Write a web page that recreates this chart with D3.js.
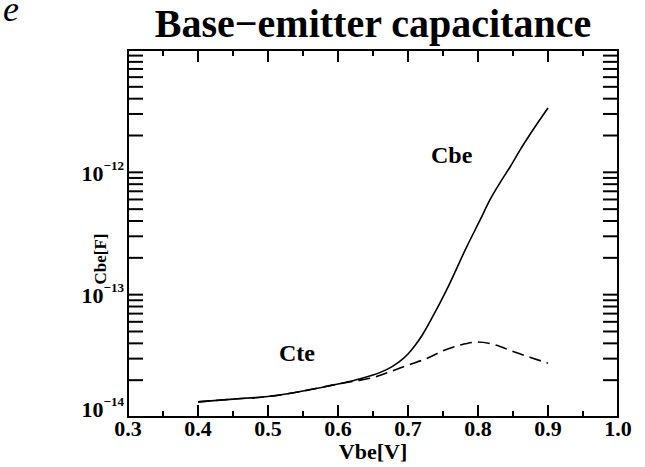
<!DOCTYPE html>
<html>
<head>
<meta charset="utf-8">
<script src="https://cdn.jsdelivr.net/npm/d3@7"></script>
<style>
  html, body { margin: 0; padding: 0; background: #fff; }
  svg { display: block; }
  text { font-family: "Liberation Serif", "Times New Roman", serif; fill: #000; }
</style>
</head>
<body>
<svg id="chart" width="645" height="467"></svg>
<script>
// Base-emitter voltage sweep [V]
const vbe = [0.40, 0.45, 0.50, 0.55, 0.60, 0.625, 0.65, 0.67, 0.68, 0.69, 0.70, 0.71, 0.72, 0.735, 0.755, 0.784, 0.803, 0.817, 0.834, 0.846, 0.86, 0.90];
// Total base-emitter capacitance Cbe [F]
const cbe = [1.33e-14, 1.40e-14, 1.47e-14, 1.63e-14, 1.86e-14, 2.01e-14, 2.20e-14, 2.45e-14, 2.64e-14, 2.90e-14, 3.27e-14, 3.84e-14, 4.64e-14, 6.57e-14, 1.09e-13, 2.47e-13, 4.08e-13, 5.95e-13, 8.67e-13, 1.11e-12, 1.52e-12, 3.36e-12];
// Depletion (junction) capacitance Cte [F]
const vbeCte = [0.40, 0.45, 0.50, 0.55, 0.60, 0.625, 0.65, 0.675, 0.70, 0.725, 0.75, 0.775, 0.80, 0.825, 0.85, 0.875, 0.90];
const cte = [1.33e-14, 1.40e-14, 1.47e-14, 1.63e-14, 1.86e-14, 1.97e-14, 2.10e-14, 2.35e-14, 2.66e-14, 2.98e-14, 3.47e-14, 3.88e-14, 4.10e-14, 3.88e-14, 3.43e-14, 3.07e-14, 2.75e-14];

const xTickValues = [0.3, 0.4, 0.5, 0.6, 0.7, 0.8, 0.9, 1.0];
const xTickLabels = ["0.3", "0.4", "0.5", "0.6", "0.7", "0.8", "0.9", "1.0"];
const yDecades = [1e-14, 1e-13, 1e-12];
const yExponents = ["\u221214", "\u221213", "\u221212"];

const title = "Base\u2212emitter capacitance";
const xTitle = "Vbe[V]";
const yTitle = "Cbe[F]";

const svg = d3.select("#chart");
const plotL = 128, plotR = 618, plotT = 50, plotB = 417;

const x = d3.scaleLinear().domain([0.3, 1.0]).range([plotL, plotR]);
const y = d3.scaleLog().domain([1e-14, 1e-11]).range([plotB, plotT]);

// stray glyph at the upper-left corner
svg.append("text").attr("x", 3).attr("y", 21)
  .attr("font-size", 36).attr("font-style", "italic").text("e");

// title
svg.append("text").attr("x", (plotL + plotR) / 2).attr("y", 37)
  .attr("text-anchor", "middle").attr("font-size", 40).attr("font-weight", "bold")
  .text(title);

// minor and major tick positions
const xMajor = d3.range(0, 8).map(i => +(0.3 + i * 0.1).toFixed(2));
const xMinor = d3.range(0, 7).map(i => +(0.35 + i * 0.1).toFixed(2));
const yTicks = [];
yDecades.forEach(d => { for (let k = 1; k <= 9; k++) yTicks.push(d * k); });
yTicks.push(1e-11);

const g = svg.append("g").attr("stroke", "#000").attr("stroke-width", 2);

// x ticks (bottom and top, inward)
xMajor.forEach(v => {
  g.append("line").attr("x1", x(v)).attr("x2", x(v)).attr("y1", plotB).attr("y2", plotB - 12);
  g.append("line").attr("x1", x(v)).attr("x2", x(v)).attr("y1", plotT).attr("y2", plotT + 12);
});
xMinor.forEach(v => {
  g.append("line").attr("x1", x(v)).attr("x2", x(v)).attr("y1", plotB).attr("y2", plotB - 6);
  g.append("line").attr("x1", x(v)).attr("x2", x(v)).attr("y1", plotT).attr("y2", plotT + 6);
});
// y ticks (left and right, inward)
yTicks.forEach(v => {
  g.append("line").attr("x1", plotL).attr("x2", plotL + 15).attr("y1", y(v)).attr("y2", y(v));
  g.append("line").attr("x1", plotR).attr("x2", plotR - 15).attr("y1", y(v)).attr("y2", y(v));
});

// frame
svg.append("rect").attr("x", plotL).attr("y", plotT)
  .attr("width", plotR - plotL).attr("height", plotB - plotT)
  .attr("fill", "none").attr("stroke", "#000").attr("stroke-width", 2);

// x tick labels
svg.append("g").selectAll("text").data(xTickValues).join("text")
  .attr("x", d => x(d)).attr("y", 436)
  .attr("text-anchor", "middle").attr("font-size", 22).attr("font-weight", "bold")
  .text((d, i) => xTickLabels[i]);

// y tick labels: 10 with superscript exponent
yDecades.forEach((d, i) => {
  const base = Math.min(y(d) + 8.5, plotB);
  const t = svg.append("text").attr("x", 124).attr("y", base)
    .attr("text-anchor", "end").attr("font-size", 22).attr("font-weight", "bold");
  t.append("tspan").text("10");
  t.append("tspan").attr("dy", -11).attr("font-size", 13).text(yExponents[i]);
});

// axis titles
svg.append("text").attr("x", x(0.65)).attr("y", 459)
  .attr("text-anchor", "middle").attr("font-size", 22).attr("font-weight", "bold")
  .text(xTitle);
svg.append("text").attr("transform", "translate(106,259) rotate(-90)")
  .attr("text-anchor", "middle").attr("font-size", 17).attr("font-weight", "bold")
  .text(yTitle);

// curves
const lineCbe = d3.line().x((d, i) => x(vbe[i])).y(d => y(d)).curve(d3.curveMonotoneX);
const lineCte = d3.line().x((d, i) => x(vbeCte[i])).y(d => y(d)).curve(d3.curveMonotoneX);

svg.append("path").attr("d", lineCbe(cbe))
  .attr("fill", "none").attr("stroke", "#000").attr("stroke-width", 1.6);
svg.append("path").attr("d", lineCte(cte))
  .attr("fill", "none").attr("stroke", "#000").attr("stroke-width", 1.6)
  .attr("stroke-dasharray", "12,6");

// curve labels
svg.append("text").attr("x", 431).attr("y", 163)
  .attr("font-size", 24).attr("font-weight", "bold").text("Cbe");
svg.append("text").attr("x", 279).attr("y", 361)
  .attr("font-size", 24).attr("font-weight", "bold").text("Cte");
</script>
</body>
</html>
